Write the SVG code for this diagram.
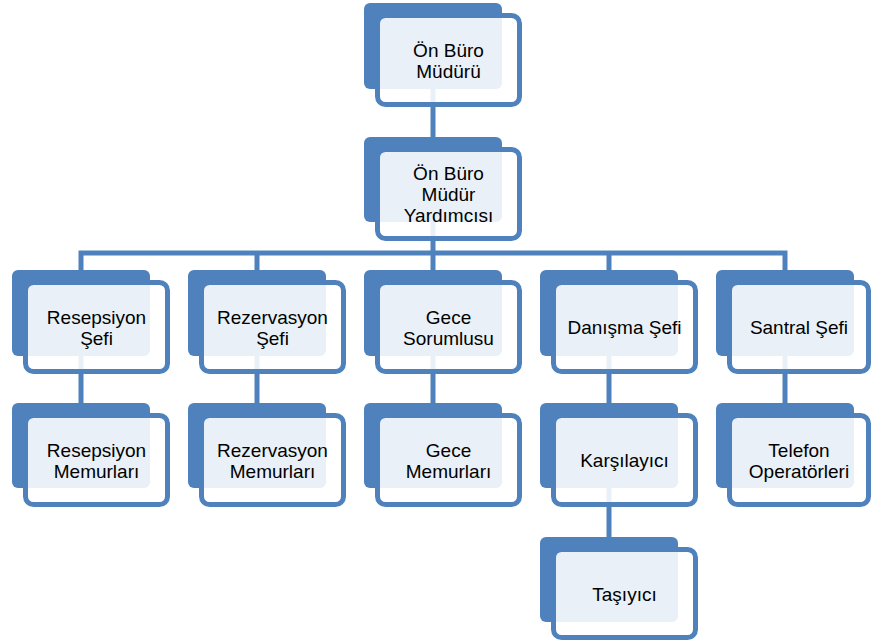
<svg xmlns="http://www.w3.org/2000/svg" width="871" height="643" viewBox="0 0 871 643">
<style>
.back{fill:#4F81BD}
.front{fill:#FFFFFF;fill-opacity:0.88;stroke:#4F81BD;stroke-width:5}
.lbl{font-family:"Liberation Sans",Arial,sans-serif;font-size:19px;fill:#000;text-anchor:middle}
.conn{stroke:#4F81BD;stroke-width:5;fill:none}
</style>
<rect width="871" height="643" fill="#FFFFFF"/>
<g id="connectors">
<line class="conn" x1="433" y1="89" x2="433" y2="138"/>
<line class="conn" x1="433" y1="222" x2="433" y2="253"/>
<polyline class="conn" points="81,270 81,253 785,253 785,270"/>
<line class="conn" x1="257" y1="253" x2="257" y2="270"/>
<line class="conn" x1="433" y1="253" x2="433" y2="270"/>
<line class="conn" x1="609" y1="253" x2="609" y2="270"/>
<line class="conn" x1="81" y1="356" x2="81" y2="403"/>
<line class="conn" x1="257" y1="356" x2="257" y2="403"/>
<line class="conn" x1="433" y1="356" x2="433" y2="403"/>
<line class="conn" x1="609" y1="356" x2="609" y2="403"/>
<line class="conn" x1="785" y1="356" x2="785" y2="403"/>
<line class="conn" x1="609" y1="488" x2="609" y2="537"/>
</g>
<g id="n_onburo_muduru">
<rect class="back" x="364" y="3" width="138" height="86" rx="6"/>
<rect class="front" x="377.5" y="15.5" width="142" height="89" rx="8"/>
<text class="lbl" x="448.5"><tspan x="448.5" y="56.5">Ön Büro</tspan><tspan x="448.5" y="77.5">Müdürü</tspan></text>
</g>
<g id="n_mudur_yardimcisi">
<rect class="back" x="364" y="137" width="138" height="85" rx="6"/>
<rect class="front" x="377.5" y="149.5" width="142" height="89" rx="8"/>
<text class="lbl"><tspan x="448.5" y="180">Ön Büro</tspan><tspan x="448.5" y="201">Müdür</tspan><tspan x="448.5" y="222">Yardımcısı</tspan></text>
</g>
<g id="n_resepsiyon_sefi">
<rect class="back" x="12" y="270" width="138" height="86" rx="6"/>
<rect class="front" x="25.5" y="282.5" width="142" height="89" rx="8"/>
<text class="lbl"><tspan x="96.5" y="323.5">Resepsiyon</tspan><tspan x="96.5" y="344.5">Şefi</tspan></text>
</g>
<g id="n_rezervasyon_sefi">
<rect class="back" x="188" y="270" width="138" height="86" rx="6"/>
<rect class="front" x="201.5" y="282.5" width="142" height="89" rx="8"/>
<text class="lbl"><tspan x="272.5" y="323.5">Rezervasyon</tspan><tspan x="272.5" y="344.5">Şefi</tspan></text>
</g>
<g id="n_gece_sorumlusu">
<rect class="back" x="364" y="270" width="138" height="86" rx="6"/>
<rect class="front" x="377.5" y="282.5" width="142" height="89" rx="8"/>
<text class="lbl"><tspan x="448.5" y="323.5">Gece</tspan><tspan x="448.5" y="344.5">Sorumlusu</tspan></text>
</g>
<g id="n_danisma_sefi">
<rect class="back" x="540" y="270" width="138" height="86" rx="6"/>
<rect class="front" x="553.5" y="282.5" width="142" height="89" rx="8"/>
<text class="lbl" x="624.5" y="334">Danışma Şefi</text>
</g>
<g id="n_santral_sefi">
<rect class="back" x="716" y="270" width="138" height="86" rx="6"/>
<rect class="front" x="729.5" y="282.5" width="139" height="89" rx="8"/>
<text class="lbl" x="799" y="334">Santral Şefi</text>
</g>
<g id="n_resepsiyon_memurlari">
<rect class="back" x="12" y="403" width="138" height="85" rx="6"/>
<rect class="front" x="25.5" y="415.5" width="142" height="89" rx="8"/>
<text class="lbl"><tspan x="96.5" y="456.5">Resepsiyon</tspan><tspan x="96.5" y="477.5">Memurları</tspan></text>
</g>
<g id="n_rezervasyon_memurlari">
<rect class="back" x="188" y="403" width="138" height="85" rx="6"/>
<rect class="front" x="201.5" y="415.5" width="142" height="89" rx="8"/>
<text class="lbl"><tspan x="272.5" y="456.5">Rezervasyon</tspan><tspan x="272.5" y="477.5">Memurları</tspan></text>
</g>
<g id="n_gece_memurlari">
<rect class="back" x="364" y="403" width="138" height="85" rx="6"/>
<rect class="front" x="377.5" y="415.5" width="142" height="89" rx="8"/>
<text class="lbl"><tspan x="448.5" y="456.5">Gece</tspan><tspan x="448.5" y="477.5">Memurları</tspan></text>
</g>
<g id="n_karsilayici">
<rect class="back" x="540" y="403" width="138" height="85" rx="6"/>
<rect class="front" x="553.5" y="415.5" width="142" height="89" rx="8"/>
<text class="lbl" x="624.5" y="467">Karşılayıcı</text>
</g>
<g id="n_telefon_operatorleri">
<rect class="back" x="716" y="403" width="138" height="85" rx="6"/>
<rect class="front" x="729.5" y="415.5" width="139" height="89" rx="8"/>
<text class="lbl"><tspan x="799" y="456.5">Telefon</tspan><tspan x="799" y="477.5">Operatörleri</tspan></text>
</g>
<g id="n_tasiyici">
<rect class="back" x="540" y="537" width="138" height="85" rx="6"/>
<rect class="front" x="553.5" y="549.5" width="142" height="88" rx="8"/>
<text class="lbl" x="624.5" y="601">Taşıyıcı</text>
</g>
</svg>
